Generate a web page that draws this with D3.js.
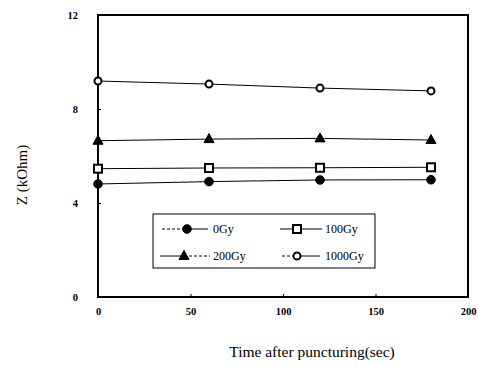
<!DOCTYPE html>
<html>
<head>
<meta charset="utf-8">
<script src="https://cdn.jsdelivr.net/npm/d3@7"></script>
<style>
  html, body { margin: 0; padding: 0; background: #fff; }
  svg { display: block; }
  text { font-family: "Liberation Serif", "DejaVu Serif", serif; fill: #000; }
</style>
</head>
<body>
<svg id="chart" width="478" height="366"></svg>
<script>
// Impedance readings after puncturing, by radiation dose
const times = [0, 60, 120, 180];
const dose0 = [4.81, 4.91, 4.98, 4.99];
const dose100 = [5.46, 5.49, 5.50, 5.52];
const dose200 = [6.65, 6.72, 6.75, 6.68];
const dose1000 = [9.19, 9.06, 8.89, 8.77];
const seriesNames = ["0Gy", "100Gy", "200Gy", "1000Gy"];
const xTicks = [0, 50, 100, 150, 200];
const yTicks = [0, 4, 8, 12];

const series = [
  { name: seriesNames[0], values: dose0, marker: "dot" },
  { name: seriesNames[1], values: dose100, marker: "square" },
  { name: seriesNames[2], values: dose200, marker: "triangle" },
  { name: seriesNames[3], values: dose1000, marker: "circle" }
];

const svg = d3.select("#chart");
const margin = { left: 98, right: 10, top: 15, bottom: 69 };
const W = 478, H = 366;
const x = d3.scaleLinear().domain([0, 200]).range([margin.left, W - margin.right]);
const y = d3.scaleLinear().domain([0, 12]).range([H - margin.bottom, margin.top]);

// Frame
svg.append("rect")
  .attr("x", x(0)).attr("y", y(12))
  .attr("width", x(200) - x(0)).attr("height", y(0) - y(12))
  .attr("fill", "none").attr("stroke", "#000").attr("stroke-width", 2);

function styleTicks(g) {
  g.select(".domain").remove();
  g.selectAll("line").attr("stroke", "#000");
  g.selectAll("text")
    .attr("font-size", 10.5).attr("font-weight", "bold")
    .attr("font-family", "Liberation Serif, serif").attr("fill", "#000");
}

// Axes (short inward ticks, bold numerals)
const xAxis = d3.axisBottom(x).tickValues(xTicks).tickSize(-3).tickPadding(11).tickFormat(d3.format("d"));
svg.append("g").attr("transform", `translate(0,${y(0)})`).call(xAxis).call(styleTicks);

const yAxis = d3.axisLeft(y).tickValues(yTicks).tickSize(-3).tickPadding(20).tickFormat(d3.format("d"));
svg.append("g").attr("transform", `translate(${x(0)},0)`).call(yAxis).call(styleTicks);

// Axis titles
svg.append("text")
  .attr("x", 312).attr("y", 357)
  .attr("text-anchor", "middle").attr("font-size", 15.5)
  .text("Time after puncturing(sec)");
svg.append("text")
  .attr("transform", `translate(27,175) rotate(-90)`)
  .attr("text-anchor", "middle").attr("font-size", 15)
  .text("Z (kOhm)");

// Marker drawing
function drawMarker(g, type, cx, cy) {
  if (type === "dot" || type === "circle") {
    g.append("circle").attr("cx", cx).attr("cy", cy).attr("r", type === "circle" ? 3.5 : 4.3)
      .attr("fill", type === "circle" ? "#fff" : "#000")
      .attr("stroke", "#000").attr("stroke-width", type === "circle" ? 2 : 1);
  } else if (type === "square") {
    g.append("rect").attr("x", cx - 4).attr("y", cy - 4).attr("width", 8).attr("height", 8)
      .attr("fill", "#fff").attr("stroke", "#000").attr("stroke-width", 2);
  } else if (type === "triangle") {
    g.append("path").attr("d", `M${cx},${cy - 5.5}L${cx + 5},${cy + 3.5}L${cx - 5},${cy + 3.5}Z`)
      .attr("fill", "#000").attr("stroke", "#000").attr("stroke-width", 1);
  }
}

// Series lines and markers
const line = d3.line().x((d, i) => x(times[i])).y(d => y(d));
series.forEach(s => {
  svg.append("path").datum(s.values).attr("d", line)
    .attr("fill", "none").attr("stroke", "#000").attr("stroke-width", 1);
  const g = svg.append("g");
  s.values.forEach((v, i) => drawMarker(g, s.marker, x(times[i]), y(v)));
});

// Legend
const legend = svg.append("g");
legend.append("rect").attr("x", 153).attr("y", 214).attr("width", 222).attr("height", 54)
  .attr("fill", "#fff").attr("stroke", "#000").attr("stroke-width", 1);
const legendPos = [
  { x0: 162, x1: 208, mx: 187, tx: 213, ty: 229, dash: "left" },
  { x0: 280, x1: 322, mx: 297, tx: 325, ty: 229, dash: null },
  { x0: 160, x1: 210, mx: 184, tx: 213, ty: 256, dash: "right" },
  { x0: 282, x1: 320, mx: 297, tx: 325, ty: 256, dash: "left" }
];
series.forEach((s, i) => {
  const p = legendPos[i];
  legend.append("line").attr("x1", p.x0).attr("x2", p.mx).attr("y1", p.ty).attr("y2", p.ty)
    .attr("stroke", "#000").attr("stroke-width", 1)
    .attr("stroke-dasharray", p.dash === "left" ? "3,2" : null);
  legend.append("line").attr("x1", p.mx).attr("x2", p.x1).attr("y1", p.ty).attr("y2", p.ty)
    .attr("stroke", "#000").attr("stroke-width", 1)
    .attr("stroke-dasharray", p.dash === "right" ? "3,2" : null);
  drawMarker(legend, s.marker, p.mx, p.ty);
  legend.append("text").attr("x", p.tx).attr("y", p.ty + 4).attr("font-size", 12).text(s.name);
});
</script>
</body>
</html>
